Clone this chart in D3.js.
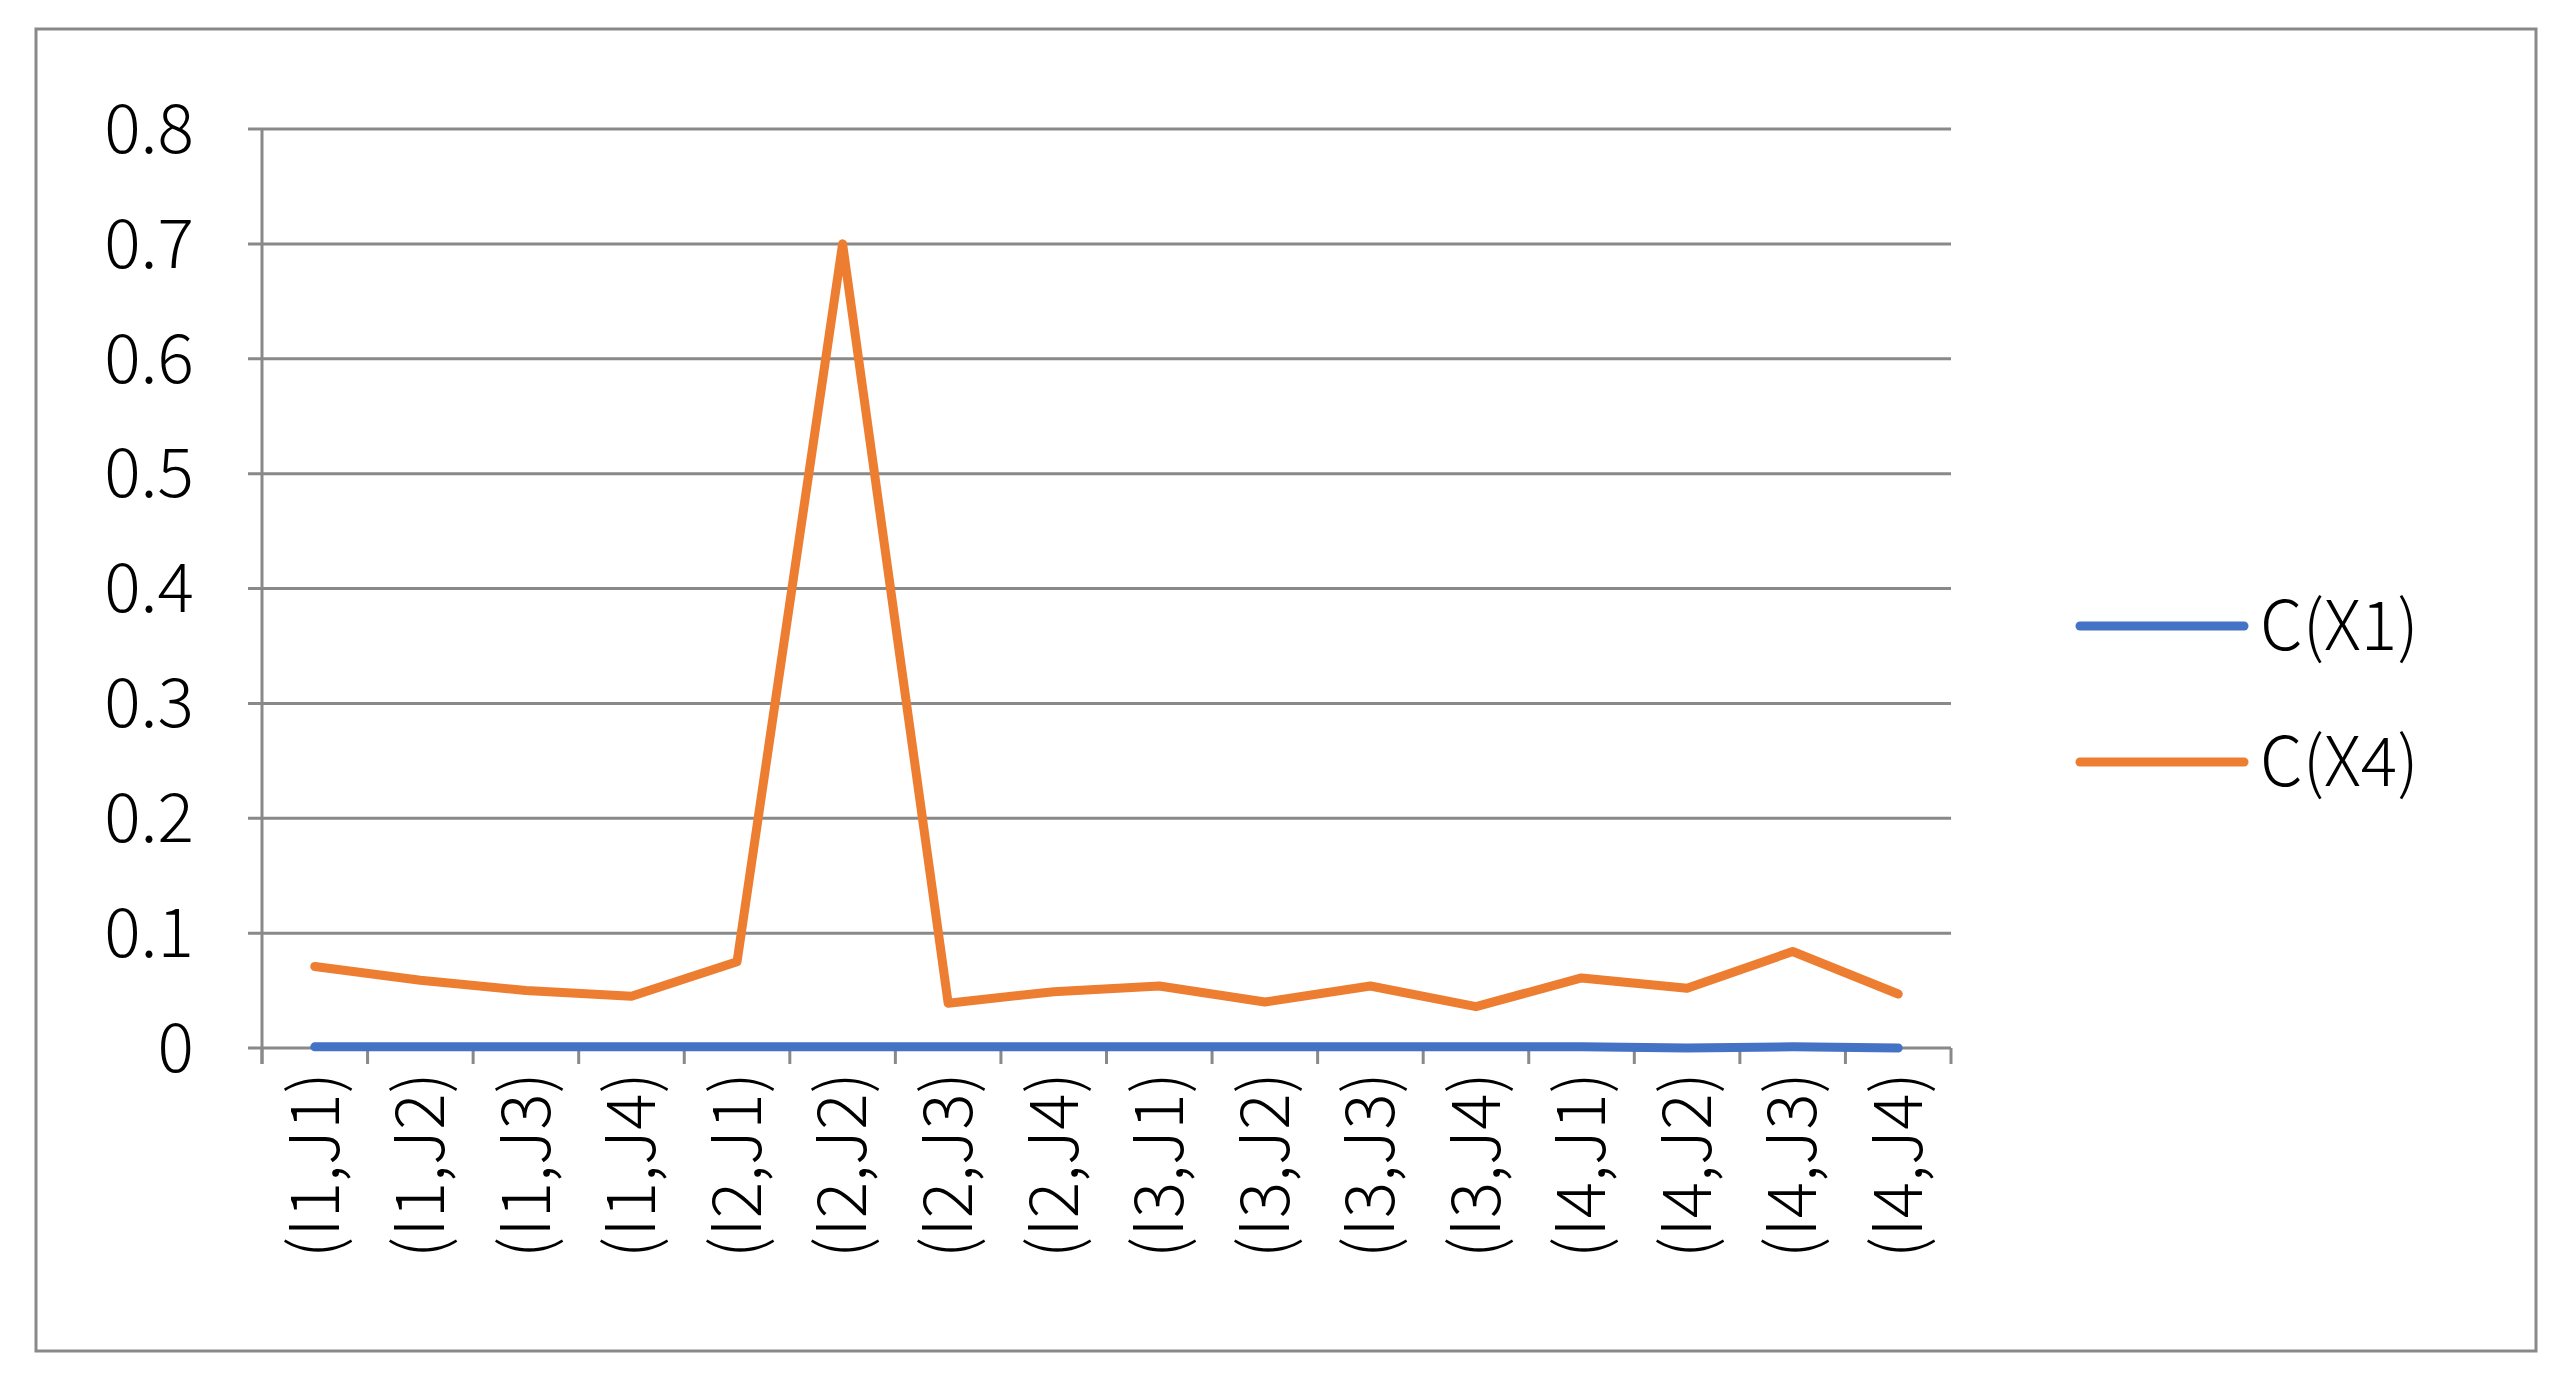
<!DOCTYPE html>
<html><head><meta charset="utf-8">
<script src="https://cdn.jsdelivr.net/npm/d3@7"></script>
<style>body{margin:0;background:#fff}text{font-family:"Noto Sans CJK SC","Noto Sans",sans-serif;font-weight:300;fill:#000}</style>
</head><body><div id="chart"></div>
<script>
const categories = ["(I1,J1)","(I1,J2)","(I1,J3)","(I1,J4)","(I2,J1)","(I2,J2)","(I2,J3)","(I2,J4)",
  "(I3,J1)","(I3,J2)","(I3,J3)","(I3,J4)","(I4,J1)","(I4,J2)","(I4,J3)","(I4,J4)"];
const cX1 = [0.001,0.001,0.001,0.001,0.001,0.001,0.001,0.001,0.001,0.001,0.001,0.001,0.001,0.0,0.001,0.0];
const cX4 = [0.071,0.059,0.050,0.045,0.075,0.700,0.039,0.049,0.054,0.040,0.054,0.036,0.061,0.052,0.084,0.047];
const yTicks = [0,0.1,0.2,0.3,0.4,0.5,0.6,0.7,0.8];
const series = [{name:"C(X1)", values:cX1, color:"#4472C4"},{name:"C(X4)", values:cX4, color:"#ED7D31"}];

const width = 2568, height = 1384;
const m = {left:262, right:1951, top:129, bottom:1048};
const svg = d3.select("#chart").append("svg").attr("width", width).attr("height", height);
svg.append("rect").attr("x",36).attr("y",29).attr("width",2500).attr("height",1322)
  .attr("fill","#fff").attr("stroke","#898989").attr("stroke-width",3);

const x = d3.scaleBand().domain(categories).range([m.left, m.right]);
const y = d3.scaleLinear().domain([0,0.8]).range([m.bottom, m.top]);

// grid
svg.append("g").selectAll("line").data(yTicks).join("line")
  .attr("x1", m.left-14).attr("x2", m.right).attr("y1", d=>y(d)).attr("y2", d=>y(d))
  .attr("stroke","#898989").attr("stroke-width",3);
svg.append("line").attr("x1",m.left).attr("x2",m.left).attr("y1",m.top).attr("y2",m.bottom+16)
  .attr("stroke","#898989").attr("stroke-width",3);
// x ticks
const xt = categories.map((c,i)=>x.range()[0]+x.step()*(i+1));
svg.append("g").selectAll("line").data([m.left, ...xt]).join("line")
  .attr("x1", d=>d).attr("x2", d=>d).attr("y1", m.bottom).attr("y2", m.bottom+16)
  .attr("stroke","#898989").attr("stroke-width",3);

// y labels
svg.append("g").selectAll("text").data(yTicks).join("text")
  .attr("x", 194).attr("y", d=>y(d)).attr("dy","0.35em").attr("text-anchor","end")
  .attr("font-size", 68).text(d=>d);

// x labels
svg.append("g").selectAll("text").data(categories).join("text")
  .attr("transform", d=>`translate(${x(d)+x.bandwidth()/2},${m.bottom+24}) rotate(-90)`)
  .attr("text-anchor","end").attr("dy","0.35em").attr("font-size", 68).text(d=>d);

const line = d3.line().x((d,i)=>x(categories[i])+x.bandwidth()/2).y(d=>y(d));
svg.append("g").selectAll("path").data(series).join("path")
  .attr("d", d=>line(d.values)).attr("fill","none").attr("stroke", d=>d.color)
  .attr("stroke-width",9).attr("stroke-linejoin","round").attr("stroke-linecap","round");

// legend
const lg = svg.append("g").selectAll("g").data(series).join("g")
  .attr("transform",(d,i)=>`translate(2080,${626+i*136})`);
lg.append("line").attr("x1",0).attr("x2",164).attr("stroke",d=>d.color).attr("stroke-width",9).attr("stroke-linecap","round");
lg.append("text").attr("x",180).attr("dy","0.35em").attr("font-size",68).text(d=>d.name);
</script></body></html>
